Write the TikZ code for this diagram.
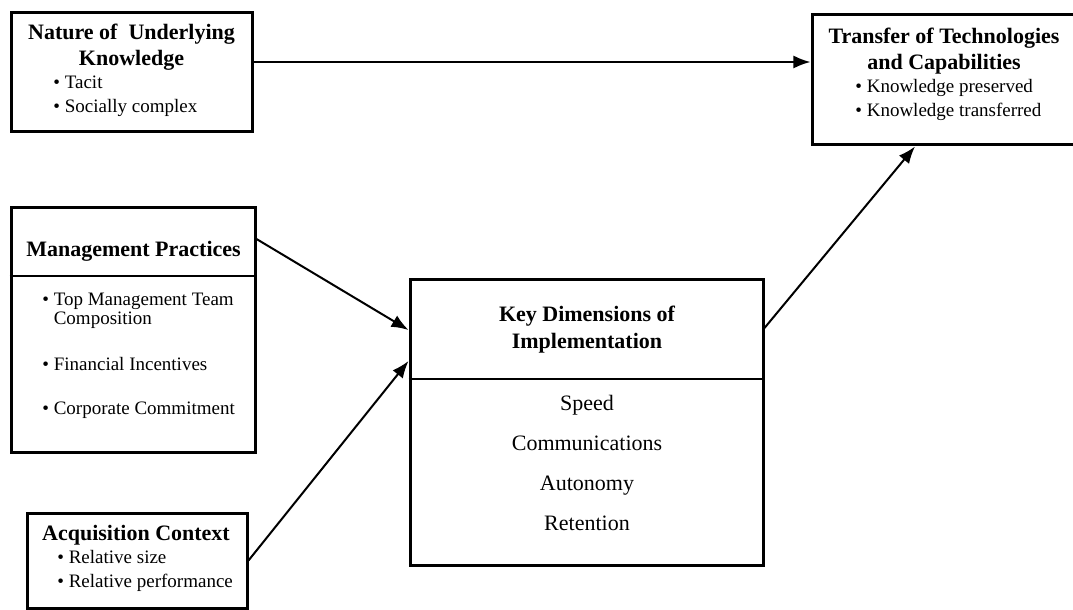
\documentclass[tikz,border=0pt]{standalone}
\usepackage{fontspec}
\setmainfont{Liberation Serif}
\usetikzlibrary{arrows.meta,positioning}
\tikzset{%
  >={Latex[width=2.3mm,length=3mm]},
  % Specifications for style of boxes and texts:
  box/.style = {rectangle, draw=black, line width=1.5pt, inner sep=0pt},
  head/.style = {font=\fontsize{11}{13}\selectfont\bfseries,
    align=center, inner sep=0pt},
  item/.style = {font=\fontsize{9.5}{12}\selectfont,
    align=left, anchor=west, inner sep=0pt},
  dim/.style = {font=\fontsize{11}{20}\selectfont,
    align=center, inner sep=0pt},
  link/.style = {->, line width=1pt},
}

\begin{document}
\begin{tikzpicture}[x=0.5pt,y=-0.5pt]
    \useasboundingbox (0,0) rectangle (1073,610);
    % Boxes
    \node(nat)[box, minimum width=120.5pt, minimum height=59.5pt] at (131.5,72.5) {};
    \node(tra)[box, minimum width=134pt, minimum height=65pt] at (946,80) {};
    \node(man)[box, minimum width=122pt, minimum height=122pt] at (133,330) {};
    \node(acq)[box, minimum width=110pt, minimum height=47.5pt] at (137,560.5) {};
    \node(key)[box, minimum width=176.5pt, minimum height=142.5pt] at (586.5,422.5) {};
    \draw[line width=0.8pt] (man.west |- 0,276) -- (man.east |- 0,276);
    \draw[line width=0.8pt] (key.west |- 0,379) -- (key.east |- 0,379);
    % Texts
    \node(natT)[head] at (131.5,47) {Nature of\ \ Underlying\\Knowledge};
    \node(natL)[item] at (53,96) {\textbullet\ Tacit\\\textbullet\ Socially complex};
    \node(traT)[head] at (944,51) {Transfer of Technologies\\and Capabilities};
    \node(traL)[item] at (855,100) {\textbullet\ Knowledge preserved\\\textbullet\ Knowledge transferred};
    \node(manT)[head] at (133.5,251) {Management Practices};
    \node(manA)[item, font=\fontsize{9.5}{9.5}\selectfont] at (42,310.5)
      {\textbullet\ Top Management Team\\\phantom{\textbullet\ }Composition};
    \node(manB)[item] at (42,364) {\textbullet\ Financial Incentives};
    \node(manC)[item] at (42,410) {\textbullet\ Corporate Commitment};
    \node(acqT)[head] at (136,535) {Acquisition Context};
    \node(acqL)[item] at (57,570.5) {\textbullet\ Relative size\\\textbullet\ Relative performance};
    \node(keyT)[head, font=\fontsize{11}{13.5}\selectfont\bfseries] at (587,329.5)
      {Key Dimensions of\\Implementation};
    \node(keyL)[dim] at (587,463) {Speed\\Communications\\Autonomy\\Retention};
    % Connectors
    \coordinate(natOut) at ([yshift=5.25pt]nat.east);
    \draw[link](natOut) -- (natOut -| tra.west);
    \draw[link]([yshift=45.5pt]man.east) -- ([yshift=46.25pt]key.west);
    \draw[link](acq.east) -- ([yshift=30.75pt]key.west);
    \draw[link]([yshift=47.25pt]key.east) -- ([xshift=-15.5pt]tra.south);
\end{tikzpicture}
\end{document}
